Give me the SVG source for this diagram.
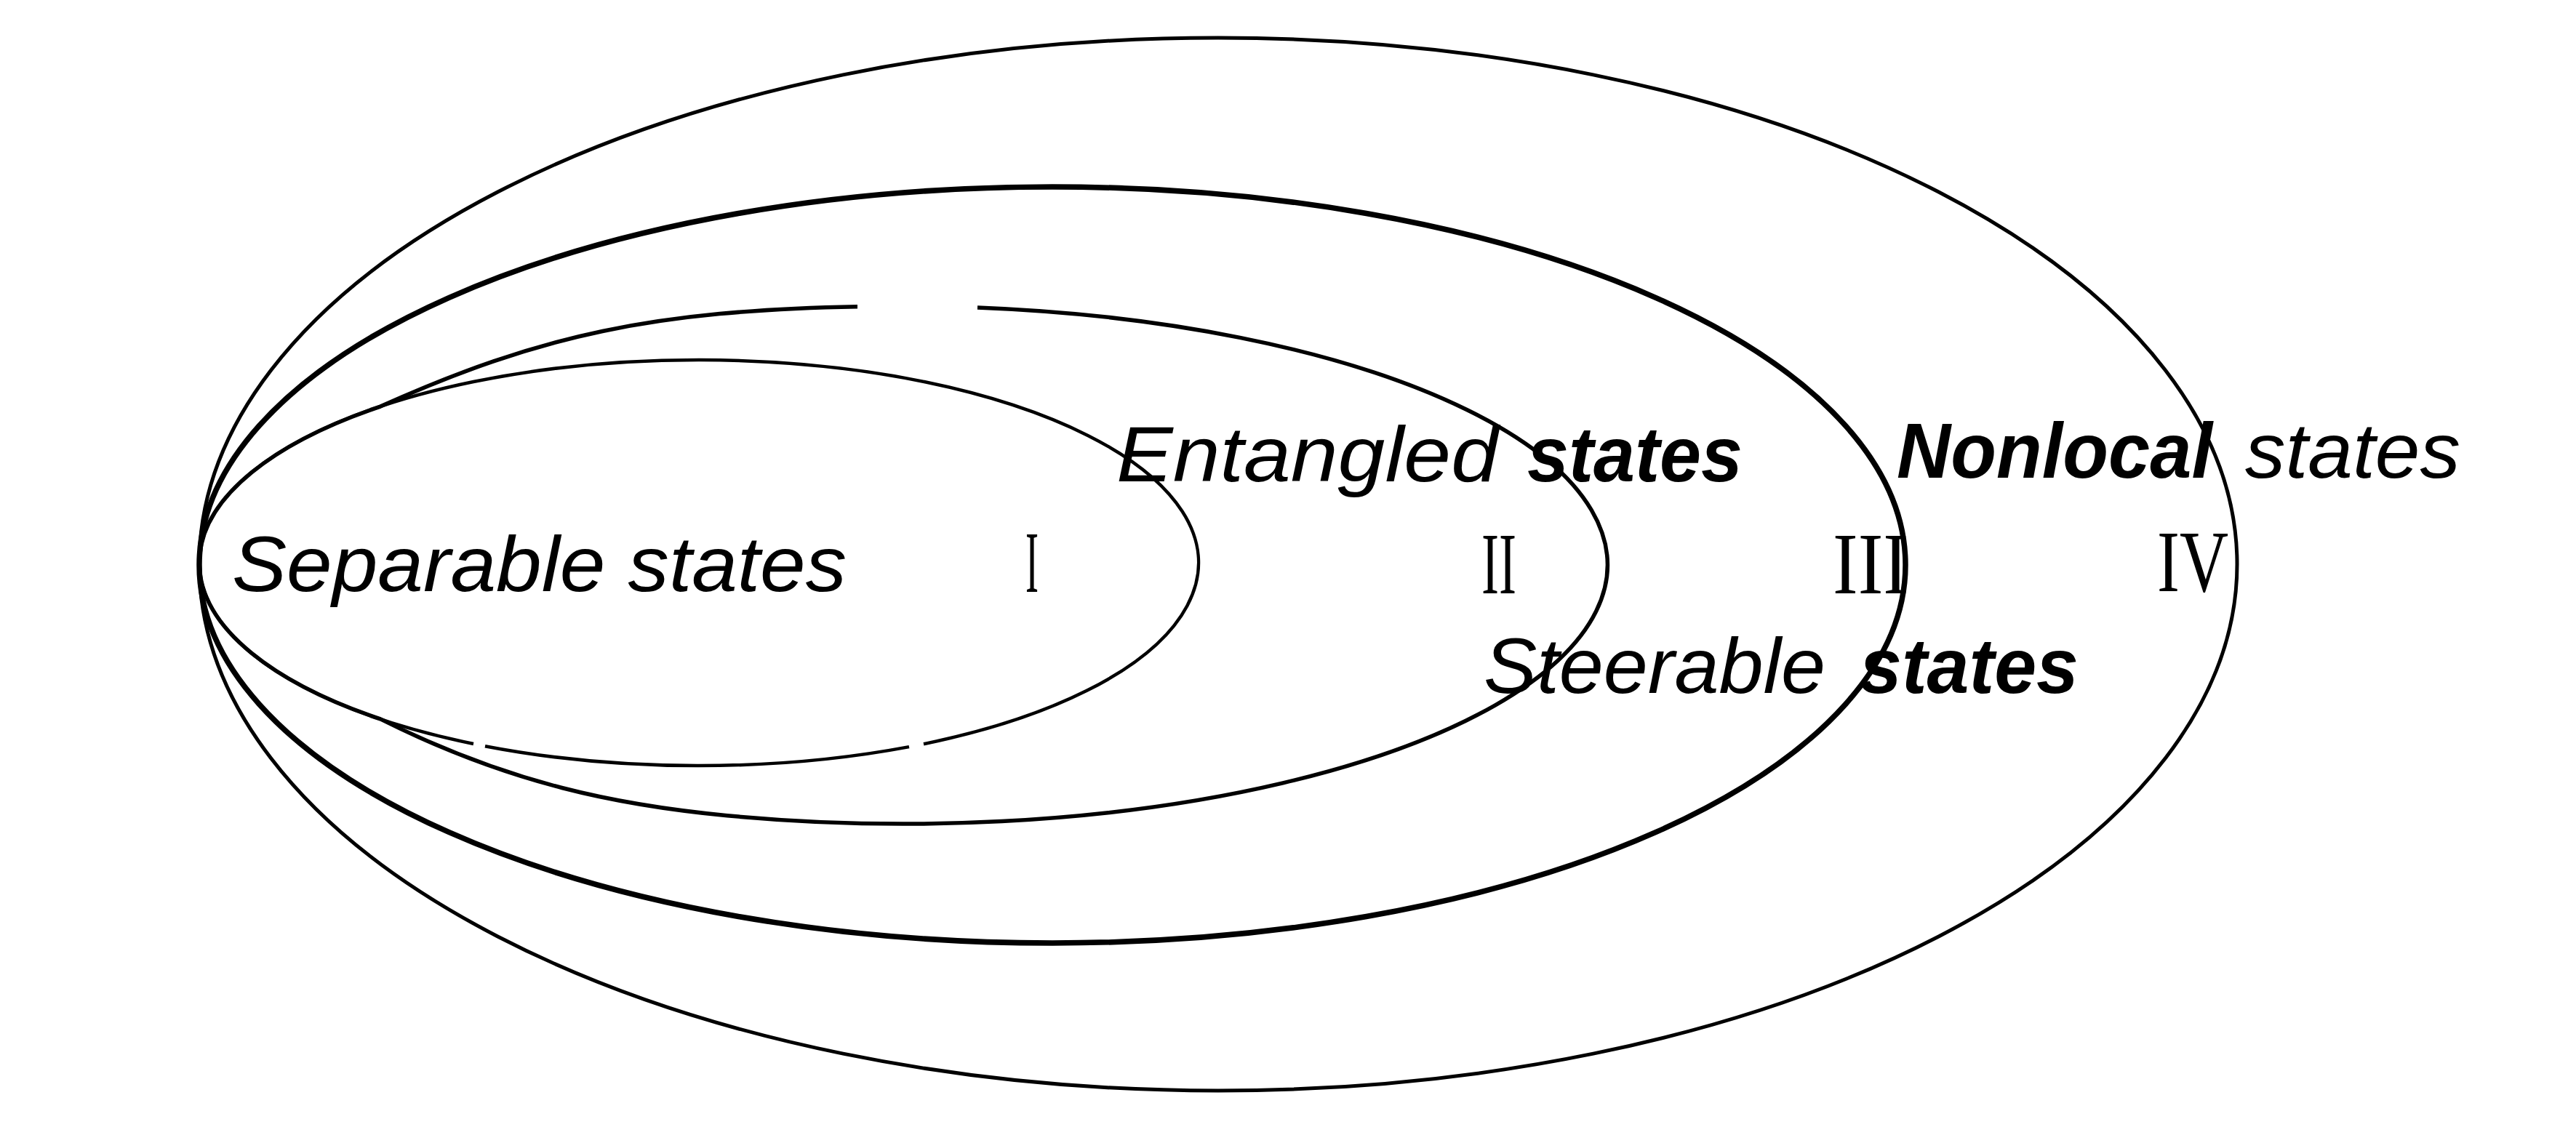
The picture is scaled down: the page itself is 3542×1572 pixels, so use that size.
<svg xmlns="http://www.w3.org/2000/svg" width="3542" height="1572" viewBox="0 0 3542 1572">
  <style>
    .ring { fill: none; stroke: #000; stroke-linecap: butt; stroke-linejoin: round; }
    .lbl { font-family: "Liberation Sans", Arial, sans-serif; font-style: italic; font-size: 108px; fill: #000; }
    .b { font-weight: 700; }
    .num { font-family: "Liberation Serif", "Times New Roman", serif; font-size: 120px; fill: #000; }
  </style>
  <rect x="0" y="0" width="3542" height="1572" fill="#fff"/>
  <g id="set-IV-nonlocal">
    <ellipse class="ring" cx="1675" cy="776" rx="1401" ry="724" stroke-width="5"/>
  </g>
  <g id="set-III-steerable">
    <ellipse class="ring" cx="1447" cy="777" rx="1173" ry="520" stroke-width="7.5"/>
  </g>
  <g id="set-II-entangled">
    <path class="ring" stroke-width="5.5" d="M 1344 423 A 968 356 0 1 1 1000 1121.7 C 850.7 1107.5 701.9 1078.3 523 988.9 A 687 279 0 0 1 523 559.1 C 741.9 460.7 900 427 1179 421.75"/>
  </g>
  <g id="set-I-separable">
    <path class="ring" stroke-width="4.5" d="M 667 1026.2 A 687 279 0 0 0 1250 1027.1 M 1270 1023.2 A 687 279 0 1 0 651 1023"/>
  </g>
  <g id="connectors"/>
  <g id="labels">
    <text class="lbl" x="319" y="813" textLength="845" lengthAdjust="spacingAndGlyphs">Separable states</text>
    <text class="lbl" y="662"><tspan x="1535" textLength="525" lengthAdjust="spacingAndGlyphs">Entangled</tspan> <tspan class="b" x="2100" textLength="296" lengthAdjust="spacingAndGlyphs">states</tspan></text>
    <text class="lbl" y="953"><tspan x="2040" textLength="470" lengthAdjust="spacingAndGlyphs">Steerable</tspan> <tspan class="b" x="2557" textLength="301" lengthAdjust="spacingAndGlyphs">states</tspan></text>
    <text class="lbl" y="657"><tspan class="b" x="2608" textLength="434" lengthAdjust="spacingAndGlyphs">Nonlocal</tspan> <tspan x="3087" textLength="296" lengthAdjust="spacingAndGlyphs">states</tspan></text>
  </g>
  <g id="region-numbers">
    <text class="num" x="1410" y="814" textLength="18" lengthAdjust="spacingAndGlyphs">I</text>
    <text class="num" x="2037" y="816" textLength="48" lengthAdjust="spacingAndGlyphs">II</text>
    <text class="num" x="2520" y="816" textLength="104" lengthAdjust="spacingAndGlyphs">III</text>
    <text class="num" x="2966" y="813" font-size="128" textLength="98" lengthAdjust="spacingAndGlyphs">IV</text>
  </g>
</svg>
